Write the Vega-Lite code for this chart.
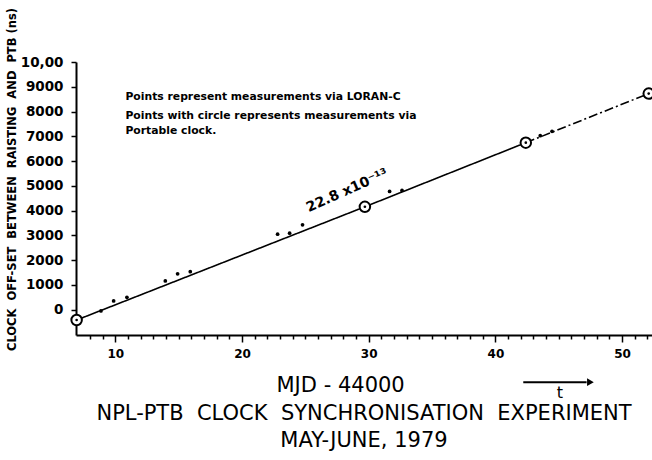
{
  "$schema": "https://vega.github.io/schema/vega-lite/v6.json",
  "width": 576,
  "height": 273,
  "autosize": "none",
  "padding": {"left": 76, "top": 62, "right": 0, "bottom": 125},
  "background": "white",
  "config": {"view": {"stroke": null}, "font": "DejaVu Sans"},
  "title": {
    "text": ["NPL-PTB\u00a0 CLOCK\u00a0 SYNCHRONISATION\u00a0 EXPERIMENT", "MAY-JUNE, 1979"],
    "orient": "bottom",
    "anchor": "middle",
    "font": "DejaVu Sans",
    "fontSize": 21,
    "fontWeight": "normal",
    "lineHeight": 27,
    "offset": 2,
    "color": "black"
  },
  "datasets": {
    "circles": [
      {"mjd": 6.95, "offset": -425},
      {"mjd": 29.7, "offset": 4150},
      {"mjd": 42.4, "offset": 6740},
      {"mjd": 52.1, "offset": 8725}
    ],
    "fit": [
      {"mjd": 6.95, "offset": -425, "seg": "a"},
      {"mjd": 29.7, "offset": 4150, "seg": "a"},
      {"mjd": 42.4, "offset": 6740, "seg": "a"},
      {"mjd": 42.4, "offset": 6740, "seg": "b"},
      {"mjd": 52.1, "offset": 8725, "seg": "b"}
    ],
    "loran": [
      {"mjd": 8.87, "offset": -60},
      {"mjd": 9.87, "offset": 345},
      {"mjd": 10.92, "offset": 495},
      {"mjd": 13.95, "offset": 1155},
      {"mjd": 14.92, "offset": 1440},
      {"mjd": 15.92, "offset": 1530},
      {"mjd": 22.81, "offset": 3045},
      {"mjd": 23.76, "offset": 3085},
      {"mjd": 24.78, "offset": 3420},
      {"mjd": 31.65, "offset": 4770},
      {"mjd": 32.63, "offset": 4810},
      {"mjd": 43.54, "offset": 7025},
      {"mjd": 44.47, "offset": 7200}
    ],
    "notes": [
      {"mjd": 10.8, "offset": 8600, "label": "Points represent measurements via LORAN-C"},
      {"mjd": 10.8, "offset": 7830, "label": "Points with circle represents measurements via"},
      {"mjd": 10.8, "offset": 7225, "label": "Portable clock."}
    ],
    "slope": [
      {"mjd": 28.3, "offset": 4800, "label": "22.8 x10⁻¹³"}
    ],
    "arrow": [
      {"mjd": 42.2, "mjd2": 47.2, "offset": -2935}
    ],
    "arrowhead": [
      {"mjd": 47.5, "offset": -2935}
    ],
    "tlabel": [
      {"mjd": 45.1, "offset": -3370, "label": "t"}
    ]
  },
  "encoding": {
    "x": {
      "field": "mjd",
      "type": "quantitative",
      "scale": {"domain": [6.9, 52.36], "nice": false, "zero": false},
      "axis": {
        "title": "MJD\u00a0-\u00a044000",
        "titleFont": "DejaVu Sans",
        "titleFontSize": 21,
        "titleFontWeight": "normal",
        "titleColor": "black",
        "titlePadding": 15,
        "titleAnchor": "start",
        "titleX": 200,
        "values": [8,9,10,11,12,13,14,15,16,17,18,19,20,21,22,23,24,25,26,27,28,29,30,31,32,33,34,35,36,37,38,39,40,41,42,43,44,45,46,47,48,49,50,51,52],
        "labelExpr": "datum.value % 10 === 0 ? datum.value : ''",
        "labelFont": "DejaVu Sans",
        "labelFontSize": 12,
        "labelFontWeight": "bold",
        "labelColor": "black",
        "labelPadding": 6,
        "labelFlush": false,
        "labelOverlap": false,
        "tickSize": {"condition": {"test": "datum.value % 10 === 0", "value": 7}, "value": 4},
        "tickColor": "black",
        "tickWidth": 1.5,
        "domainColor": "black",
        "domainWidth": 2,
        "grid": false
      }
    },
    "y": {
      "field": "offset",
      "type": "quantitative",
      "scale": {"domain": [-1030, 10000], "nice": false, "zero": false},
      "axis": {
        "title": "CLOCK\u00a0 OFF-SET\u00a0 BETWEEN\u00a0 RAISTING\u00a0 AND\u00a0 PTB (ns)",
        "titleFont": "DejaVu Sans",
        "titleFontSize": 11.5,
        "titleFontWeight": "bold",
        "titleColor": "black",
        "titleAnchor": "middle",
        "titleX": -64,
        "titleY": 117,
        "titleAngle": -90,
        "titleBaseline": "middle",
        "values": [0,1000,2000,3000,4000,5000,6000,7000,8000,9000,10000],
        "labelExpr": "datum.value === 10000 ? '10,00' : '' + datum.value",
        "labelFont": "DejaVu Sans",
        "labelFontSize": 13.5,
        "labelFontWeight": "bold",
        "labelColor": "black",
        "labelPadding": 8,
        "labelFlush": false,
        "labelOverlap": false,
        "tickSize": 5,
        "tickColor": "black",
        "tickWidth": 1.5,
        "domainColor": "black",
        "domainWidth": 2,
        "grid": false
      }
    }
  },
  "layer": [
    {
      "data": {"name": "fit"},
      "mark": {"type": "line", "color": "black", "strokeWidth": 1.6, "clip": false},
      "encoding": {
        "detail": {"field": "seg"},
        "strokeDash": {
          "field": "seg",
          "type": "nominal",
          "scale": {"domain": ["a", "b"], "range": [[1, 0], [9, 3, 2, 3]]},
          "legend": null
        }
      }
    },
    {
      "data": {"name": "loran"},
      "mark": {"type": "point", "shape": "circle", "filled": true, "color": "black", "size": 14, "opacity": 1}
    },
    {
      "data": {"name": "circles"},
      "mark": {"type": "point", "shape": "circle", "filled": true, "fill": "white", "stroke": "black", "strokeWidth": 2, "size": 110, "opacity": 1, "clip": false}
    },
    {
      "data": {"name": "circles"},
      "mark": {"type": "point", "shape": "circle", "filled": true, "color": "black", "size": 7, "opacity": 1, "clip": false}
    },
    {
      "data": {"name": "notes"},
      "mark": {"type": "text", "align": "left", "baseline": "middle", "font": "DejaVu Sans", "fontSize": 10.8, "fontWeight": "bold", "color": "black"},
      "encoding": {"text": {"field": "label"}}
    },
    {
      "data": {"name": "slope"},
      "mark": {"type": "text", "align": "center", "baseline": "middle", "font": "DejaVu Sans", "fontSize": 14, "fontWeight": "bold", "color": "black", "angle": 336},
      "encoding": {"text": {"field": "label"}}
    },
    {
      "data": {"name": "arrow"},
      "mark": {"type": "rule", "color": "black", "strokeWidth": 2, "clip": false},
      "encoding": {"x2": {"field": "mjd2"}}
    },
    {
      "data": {"name": "arrowhead"},
      "mark": {"type": "point", "shape": "triangle-right", "filled": true, "color": "black", "size": 60, "opacity": 1, "clip": false}
    },
    {
      "data": {"name": "tlabel"},
      "mark": {"type": "text", "align": "center", "baseline": "middle", "font": "DejaVu Sans", "fontSize": 16, "fontWeight": "normal", "color": "black", "clip": false},
      "encoding": {"text": {"field": "label"}}
    }
  ]
}
